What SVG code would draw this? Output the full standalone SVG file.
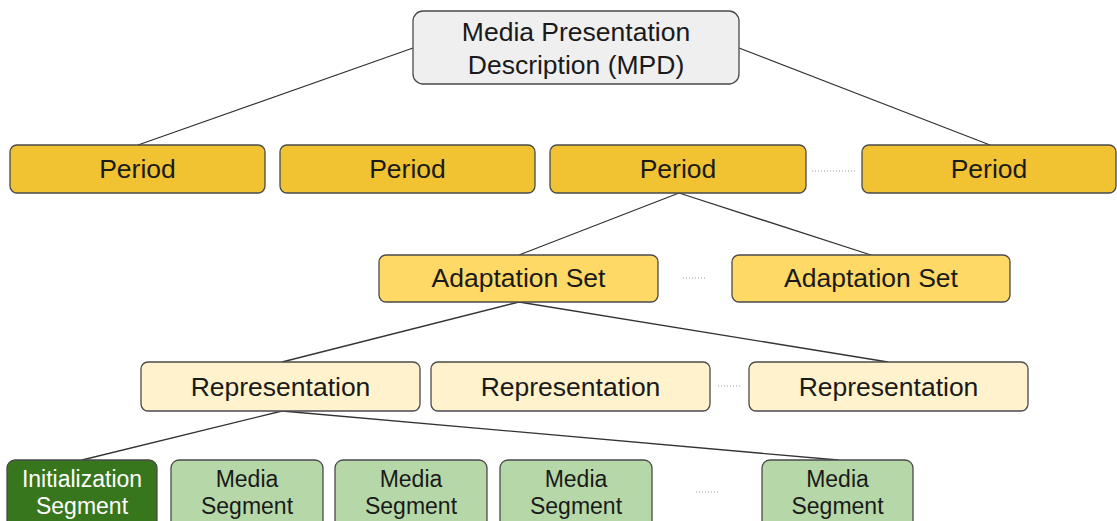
<svg xmlns="http://www.w3.org/2000/svg" width="1117" height="521" viewBox="0 0 1117 521">
  <style>
    .box { stroke: #4a4a4a; stroke-width: 1.3; }
    .mpd { fill: #efefef; }
    .period { fill: #f1c232; }
    .aset { fill: #ffd966; }
    .rep { fill: #fff2cc; }
    .init { fill: #38761d; }
    .seg { fill: #b6d7a8; }
    .lbl { font-family: "Liberation Sans", Arial, sans-serif; font-size: 26.5px; fill: #1a1a1a; text-anchor: middle; }
    .small { font-size: 23px; }
    .light { fill: #ffffff; }
    .edge { stroke: #333333; stroke-width: 1.3; fill: none; }
    .dots { stroke: #999999; stroke-width: 1.2; stroke-dasharray: 1 2; fill: none; }
  </style>

  <!-- tree connectors -->
  <g id="connectors">
    <line class="edge" x1="413" y1="48" x2="138" y2="145"/>
    <line class="edge" x1="739" y1="48" x2="990" y2="145"/>
    <line class="edge" x1="679" y1="193" x2="519" y2="255"/>
    <line class="edge" x1="679" y1="193" x2="871" y2="255"/>
    <line class="edge" x1="519" y1="302" x2="282" y2="362"/>
    <line class="edge" x1="519" y1="302" x2="888" y2="362"/>
    <line class="edge" x1="282" y1="411" x2="82" y2="460"/>
    <line class="edge" x1="282" y1="411" x2="838" y2="460"/>
    <!-- ellipsis marks between siblings -->
    <line class="dots" x1="812" y1="171" x2="856" y2="171"/>
    <line class="dots" x1="683" y1="278" x2="707" y2="278"/>
    <line class="dots" x1="718" y1="386" x2="741" y2="386"/>
    <line class="dots" x1="696" y1="492" x2="720" y2="492"/>
  </g>

  <g id="mpd">
    <rect class="box mpd" x="413" y="11" width="326" height="73" rx="10"/>
    <text class="lbl" x="576" y="41">Media Presentation</text>
    <text class="lbl" x="576" y="74">Description (MPD)</text>
  </g>

  <g id="period-1">
    <rect class="box period" x="10" y="145" width="255" height="48" rx="7"/>
    <text class="lbl" x="137.5" y="178">Period</text>
  </g>
  <g id="period-2">
    <rect class="box period" x="280" y="145" width="255" height="48" rx="7"/>
    <text class="lbl" x="407.5" y="178">Period</text>
  </g>
  <g id="period-3">
    <rect class="box period" x="550" y="145" width="256" height="48" rx="7"/>
    <text class="lbl" x="678" y="178">Period</text>
  </g>
  <g id="period-4">
    <rect class="box period" x="862" y="145" width="254" height="48" rx="7"/>
    <text class="lbl" x="989" y="178">Period</text>
  </g>

  <g id="adaptation-set-1">
    <rect class="box aset" x="379" y="255" width="279" height="47" rx="7"/>
    <text class="lbl" x="518.5" y="287">Adaptation Set</text>
  </g>
  <g id="adaptation-set-2">
    <rect class="box aset" x="732" y="255" width="278" height="47" rx="7"/>
    <text class="lbl" x="871" y="287">Adaptation Set</text>
  </g>

  <g id="representation-1">
    <rect class="box rep" x="141" y="362" width="279" height="49" rx="7"/>
    <text class="lbl" x="280.5" y="396">Representation</text>
  </g>
  <g id="representation-2">
    <rect class="box rep" x="431" y="362" width="279" height="49" rx="7"/>
    <text class="lbl" x="570.5" y="396">Representation</text>
  </g>
  <g id="representation-3">
    <rect class="box rep" x="749" y="362" width="279" height="49" rx="7"/>
    <text class="lbl" x="888.5" y="396">Representation</text>
  </g>

  <g id="init-segment">
    <rect class="box init" x="7" y="460" width="150" height="70" rx="8"/>
    <text class="lbl small light" x="82" y="487">Initialization</text>
    <text class="lbl small light" x="82" y="514">Segment</text>
  </g>
  <g id="media-segment-1">
    <rect class="box seg" x="171" y="460" width="152" height="70" rx="8"/>
    <text class="lbl small" x="247" y="487">Media</text>
    <text class="lbl small" x="247" y="514">Segment</text>
  </g>
  <g id="media-segment-2">
    <rect class="box seg" x="335" y="460" width="152" height="70" rx="8"/>
    <text class="lbl small" x="411" y="487">Media</text>
    <text class="lbl small" x="411" y="514">Segment</text>
  </g>
  <g id="media-segment-3">
    <rect class="box seg" x="500" y="460" width="152" height="70" rx="8"/>
    <text class="lbl small" x="576" y="487">Media</text>
    <text class="lbl small" x="576" y="514">Segment</text>
  </g>
  <g id="media-segment-4">
    <rect class="box seg" x="762" y="460" width="151" height="70" rx="8"/>
    <text class="lbl small" x="837.5" y="487">Media</text>
    <text class="lbl small" x="837.5" y="514">Segment</text>
  </g>
</svg>
